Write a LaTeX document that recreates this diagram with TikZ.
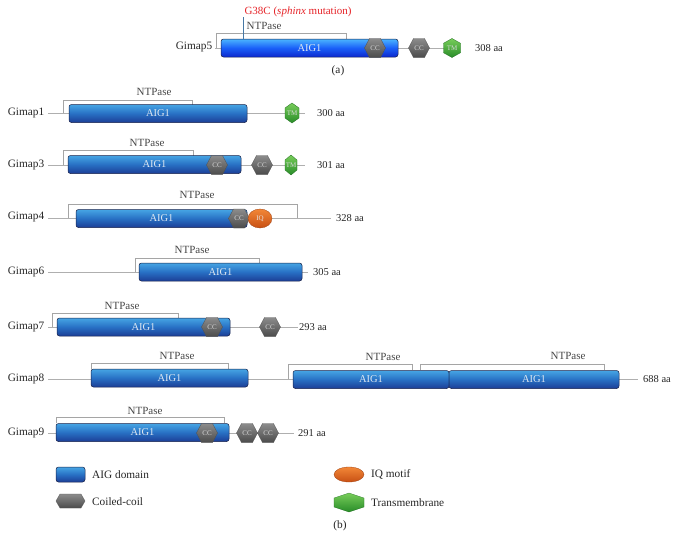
\documentclass[tikz,border=0pt]{standalone}
\usepackage{fontspec}
\setmainfont{Liberation Serif}
\usetikzlibrary{shapes.geometric}
\definecolor{lineg}{RGB}{175,175,175}
\definecolor{brg}{RGB}{165,165,165}
\definecolor{barT}{RGB}{70,165,228}
\definecolor{barM}{RGB}{40,112,196}
\definecolor{barD}{RGB}{28,62,150}
\definecolor{barB}{RGB}{25,35,75}
\definecolor{fiveT}{RGB}{75,180,255}
\definecolor{fiveM}{RGB}{25,95,248}
\definecolor{fiveD}{RGB}{12,40,205}
\definecolor{aigtxt}{RGB}{222,232,242}
\definecolor{ccT}{RGB}{140,140,140}
\definecolor{ccB}{RGB}{75,75,75}
\definecolor{ccE}{RGB}{80,80,80}
\definecolor{tmT}{RGB}{120,205,90}
\definecolor{tmB}{RGB}{40,140,40}
\definecolor{iqT}{RGB}{242,135,55}
\definecolor{iqB}{RGB}{200,80,20}
\definecolor{mutred}{RGB}{230,35,40}
\definecolor{mutline}{RGB}{70,120,165}
\tikzset{
  lab/.style={font=\fontsize{11.3}{13}\selectfont, text=black!85, inner sep=0},
  ntp/.style={font=\fontsize{11}{13}\selectfont, text=black!72, inner sep=0},
  aa/.style={font=\fontsize{10.5}{12}\selectfont, text=black!85, anchor=west, inner sep=0},
  ln/.style={draw=lineg, line width=0.8},
  br/.style={draw=brg, line width=0.7},
  bar/.style={draw=barB, line width=0.5, rounded corners=2.5, top color=barT, bottom color=barD, middle color=barM, minimum height=18, inner sep=0, text=aigtxt, font=\fontsize{10.5}{12}\selectfont},
  barfive/.style={bar, top color=fiveT, bottom color=fiveD, middle color=fiveM},
  hexcc/.style={top color=ccT, bottom color=ccB, draw=ccE, line width=0.3},
  hextmst/.style={top color=tmT, bottom color=tmB, draw=tmB!80!black, line width=0.3},
  smalltxt/.style={font=\fontsize{7}{8}\selectfont, text=black!15, inner sep=0},
  iqst/.style={ellipse, top color=iqT, bottom color=iqB, draw=iqB!80!black, line width=0.3, inner sep=0, font=\fontsize{7}{8}\selectfont, text=black!10},
}
\newcommand\mkhexcc[3]{%
  \shade[hexcc] (#2-10.5,#3) -- (#2-5.5,#3-9.5) -- (#2+5.5,#3-9.5) -- (#2+10.5,#3) -- (#2+5.5,#3+9.5) -- (#2-5.5,#3+9.5) -- cycle;
  \node[smalltxt] (#1) at (#2,#3) {CC};}
\newcommand\mkhextm[5]{%
  \shade[hextmst] (#2,#3-#5/2) -- (#2+#4/2,#3-#5/4) -- (#2+#4/2,#3+#5/4) -- (#2,#3+#5/2) -- (#2-#4/2,#3+#5/4) -- (#2-#4/2,#3-#5/4) -- cycle;
  \node[smalltxt] (#1) at (#2,#3) {TM};}
\begin{document}
\begin{tikzpicture}[x=1pt,y=-1pt]
\useasboundingbox[fill=white] (0,0) rectangle (678,538);

% ---------------- (a) Gimap5
\node[lab] (g5) at (194,47) {Gimap5};
\coordinate (s5) at (215,48); \coordinate (e5) at (452,48);
\draw[ln] (s5) -- (e5);
\draw[br] (216,48) -- (216,33) -- (346,33) -- (346,39);
\node[ntp] (n5) at (264,26) {NTPase};
\node[barfive, minimum width=177] (b5) at (309.5,48) {AIG1};
\mkhexcc{c5a}{375}{48}
\mkhexcc{c5b}{419}{48}
\mkhextm{t5}{452}{48}{17}{19}
\node[aa] (a5) at (475,48) {308 aa};
\node[font=\fontsize{11}{13}\selectfont, text=mutred, inner sep=0] (mut) at (298,12) {G38C (\textit{sphinx} mutation)};
\coordinate (mpt) at (243,39);
\draw[draw=mutline, line width=0.7] (243,17) -- (mpt);
\node[lab] (la) at (338,71) {(a)};

% ---------------- Gimap1
\node[lab] (g1) at (26,113) {Gimap1};
\coordinate (s1) at (48,113); \coordinate (e1) at (305,113);
\draw[ln] (s1) -- (e1);
\draw[br] (63,113) -- (63,100) -- (192,100) -- (192,105);
\node[ntp] (n1) at (154,92) {NTPase};
\node[bar, minimum width=178] (b1) at (158,113.5) {AIG1};
\mkhextm{t1}{292}{113}{14}{20}
\node[aa] (a1) at (317,113) {300 aa};

% ---------------- Gimap3
\node[lab] (g3) at (26,165) {Gimap3};
\coordinate (s3) at (48,165); \coordinate (e3) at (305,165);
\draw[ln] (s3) -- (e3);
\draw[br] (63,165) -- (63,150) -- (193,150) -- (193,156);
\node[ntp] (n3) at (147,143) {NTPase};
\node[bar, minimum width=173] (b3) at (154.5,164.5) {AIG1};
\mkhexcc{c3a}{217}{165}
\mkhexcc{c3b}{262}{165}
\mkhextm{t3}{291}{165}{12}{20}
\node[aa] (a3) at (317,165) {301 aa};

% ---------------- Gimap4
\node[lab] (g4) at (26,217) {Gimap4};
\coordinate (s4) at (48,218); \coordinate (e4) at (331,218);
\draw[ln] (s4) -- (e4);
\draw[br] (68,218) -- (68,204) -- (297,204) -- (297,218);
\node[ntp] (n4) at (197,195) {NTPase};
\node[bar, minimum width=171] (b4) at (161.5,218.5) {AIG1};
\mkhexcc{c4}{239}{218.5}
\node[iqst, minimum width=24, minimum height=19] (q4) at (260,218.5) {IQ};
\node[aa] (a4) at (336,218) {328 aa};

% ---------------- Gimap6
\node[lab] (g6) at (26,272) {Gimap6};
\coordinate (s6) at (48,272); \coordinate (e6) at (308,272);
\draw[ln] (s6) -- (e6);
\draw[br] (135,272) -- (135,258) -- (259,258) -- (259,263);
\node[ntp] (n6) at (192,250) {NTPase};
\node[bar, minimum width=163] (b6) at (220.5,272) {AIG1};
\node[aa] (a6) at (313,272) {305 aa};

% ---------------- Gimap7
\node[lab] (g7) at (26,327) {Gimap7};
\coordinate (s7) at (48,327); \coordinate (e7) at (298,327);
\draw[ln] (s7) -- (e7);
\draw[br] (52,327) -- (52,313) -- (178,313) -- (178,318);
\node[ntp] (n7) at (122,306) {NTPase};
\node[bar, minimum width=173] (b7) at (143.5,327) {AIG1};
\mkhexcc{c7a}{212}{327}
\mkhexcc{c7b}{270}{327}
\node[aa] (a7) at (299,327) {293 aa};

% ---------------- Gimap8
\node[lab] (g8) at (26,379) {Gimap8};
\coordinate (s8) at (48,379); \coordinate (e8) at (638,379);
\draw[ln] (s8) -- (e8);
\draw[br] (91,369) -- (91,363) -- (228,363) -- (228,369);
\draw[br] (288,379) -- (288,364) -- (412,364) -- (412,370);
\draw[br] (420,370) -- (420,364) -- (604,364) -- (604,370);
\node[ntp] (n8a) at (177,356) {NTPase};
\node[ntp] (n8b) at (383,357) {NTPase};
\node[ntp] (n8c) at (568,356) {NTPase};
\node[bar, minimum width=157] (b8a) at (169.5,378) {AIG1};
\node[bar, minimum width=156] (b8b) at (371,379.5) {AIG1};
\node[bar, minimum width=170] (b8c) at (534,379.5) {AIG1};
\node[aa] (a8) at (643,379) {688 aa};

% ---------------- Gimap9
\node[lab] (g9) at (26,433) {Gimap9};
\coordinate (s9) at (48,433); \coordinate (e9) at (294,433);
\draw[ln] (s9) -- (e9);
\draw[br] (56,423) -- (56,417) -- (224,417) -- (224,423);
\node[ntp] (n9) at (145,411) {NTPase};
\node[bar, minimum width=173] (b9) at (142.5,432.5) {AIG1};
\mkhexcc{c9a}{207}{433}
\mkhexcc{c9b}{247}{433}
\mkhexcc{c9c}{268}{433}
\node[aa] (a9) at (298,433) {291 aa};

% ---------------- legend
\node[bar, minimum width=29, minimum height=15] (lg1) at (70.5,474.5) {};
\node[lab, anchor=west] (lt1) at (92,474.5) {AIG domain};
\shade[hexcc] (56,501) -- (60,494) -- (81,494) -- (85,501) -- (81,508) -- (60,508) -- cycle;
\node[lab, anchor=west] (lt2) at (92,502) {Coiled-coil};
\node[iqst, minimum width=30, minimum height=15] (lg3) at (349,474.5) {};
\node[lab, anchor=west] (lt3) at (371,474) {IQ motif};
\shade[hextmst] (349,493) -- (364,498) -- (364,507) -- (349,512) -- (334,507) -- (334,498) -- cycle;
\node[lab, anchor=west] (lt4) at (371,502.5) {Transmembrane};
\node[lab] (lb) at (340,526) {(b)};
\end{tikzpicture}
\end{document}
